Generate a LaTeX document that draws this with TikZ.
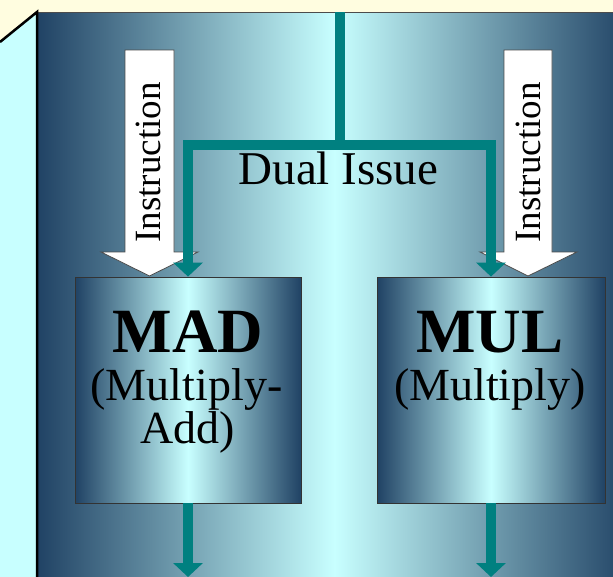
\documentclass[tikz,border=0pt]{standalone}
\usepackage{fontspec}
\setmainfont{Liberation Serif}
\usetikzlibrary{arrows.meta}
\definecolor{cream}{HTML}{FFFDE0}
\definecolor{lcyan}{HTML}{C8FFFF}
\definecolor{navy}{RGB}{32,66,100}
\definecolor{tealc}{RGB}{0,128,128}
\begin{document}
\begin{tikzpicture}[x=1pt,y=-1pt,
  tealline/.style={draw=tealc,line width=10pt},
  tealarrow/.style={tealline,-{Triangle[width=29pt,length=14pt]}},
  instrarrow/.style={fill=white,draw=black!70,line width=0.8pt},
  instrtext/.style={rotate=90,anchor=base,inner sep=0pt,font=\fontsize{37}{37}\selectfont},
  unitbox/.style={draw=black!80,line width=0.8pt,left color=navy,right color=navy,middle color=lcyan,inner sep=0pt},
  unitname/.style={anchor=base,inner sep=0pt,font=\bfseries\fontsize{63}{63}\selectfont},
  unitsub/.style={anchor=base,inner sep=0pt,font=\fontsize{46}{46}\selectfont},
  dualtext/.style={anchor=base,inner sep=0pt,font=\fontsize{47}{47}\selectfont}]
\useasboundingbox (0,0) rectangle (613,576);
\clip (0,0) rectangle (613,576);
% background and 3D box faces
\fill[cream] (0,0) rectangle (613,576);
\fill[lcyan] (0,42) -- (37,12) -- (37,580) -- (0,580) -- cycle;
\shade[left color=navy,right color=navy,middle color=lcyan] (37,12) rectangle (632,580);
\draw[line width=0.8pt,black!70] (37,12) -- (613,12);
\draw[line width=2.5pt] (0,42) -- (37,12) -- (37,580);
% instruction arrows
\draw[instrarrow] (125,50) -- (174,50) -- (174,252) -- (198,252) -- (149.5,276) -- (101,252) -- (125,252) -- cycle;
\node[instrtext] (instrL) at (160,162.5) {Instruction};
\draw[instrarrow] (504,50) -- (552,50) -- (552,252) -- (577,252) -- (528,276) -- (480,252) -- (504,252) -- cycle;
\node[instrtext] (instrR) at (540,162.5) {Instruction};
% units
\node[unitbox,minimum width=226pt,minimum height=226pt] (MAD) at (188,390) {};
\node[unitbox,minimum width=228pt,minimum height=226pt] (MUL) at (491,390) {};
\node[unitname] (madT) at (188,352) {MAD};
\node[unitsub] (madS1) at (186.5,400) {(Multiply-};
\node[unitsub] (madS2) at (188,443) {Add)};
\node[unitname] (mulT) at (490,352) {MUL};
\node[unitsub] (mulS) at (490,400) {(Multiply)};
% dual issue
\node[dualtext] (dual) at (338.5,184) {Dual Issue};
\coordinate (src) at (339.5,12);
\coordinate (split) at (339.5,144.5);
\draw[tealline] (src) -- (split);
\draw[tealarrow] (split) -| (MAD.north);
\draw[tealarrow] (split) -| (MUL.north);
\coordinate (outL) at (188,577);
\coordinate (outR) at (491,577);
\draw[tealarrow] (MAD.south) -- (outL);
\draw[tealarrow] (MUL.south) -- (outR);
\end{tikzpicture}
\end{document}
